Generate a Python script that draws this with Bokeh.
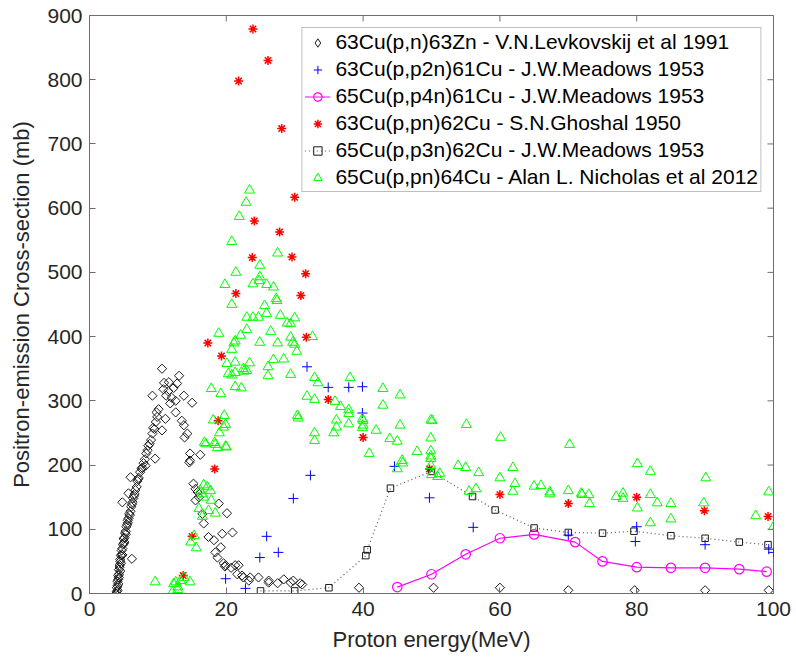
from bokeh.plotting import figure
from bokeh.models import Legend, LegendItem, Range1d, FixedTicker
from bokeh.embed import file_html
from bokeh.resources import INLINE
import numpy as np

# ---------------- data ----------------
# 63Cu(p,n)63Zn - V.N.Levkovskij et al 1991 (black diamonds)
levk_energy = [3.9, 4.0, 4.0, 4.1, 4.1, 4.2, 4.2, 4.3, 4.3, 4.4, 4.4, 4.5, 4.5, 4.6, 4.7, 4.7, 4.8, 4.9,
               5.0, 5.0, 5.1, 5.2, 5.3, 5.4, 5.5, 5.6, 5.7, 5.8, 6.0, 6.1, 6.2, 6.4, 6.5, 6.7, 6.9, 7.0,
               7.2, 7.4, 7.6, 7.9, 8.1, 8.3, 8.5, 8.8, 9.0, 9.2, 9.5, 9.7, 9.9, 10.1,
               4.1, 4.2, 4.3, 4.5, 4.6, 4.8, 5.1, 5.3, 5.6, 5.9, 6.3, 6.6, 7.1, 7.7, 8.6, 9.3, 9.8,
               4.8, 5.7, 6.2, 6.0, 8.2, 9.6,
               10.6, 13.1, 10.9, 11.6, 12.8, 9.2, 11.2, 13.8, 15.0, 12.6, 12.6, 11.1, 13.5, 13.8, 14.3,
               13.9, 10.6, 14.7, 14.7, 16.2, 11.5, 12.0, 10.8, 12.3, 11.8,
               14.6, 15.2, 15.5, 15.8, 16.0, 15.5, 16.5, 16.7, 18.9, 20.1, 19.4, 20.9, 17.4, 18.2, 19.2,
               18.4, 18.7, 19.6, 19.8, 21.3, 20.7, 21.6, 22.5, 23.5, 24.7, 26.2, 27.5, 28.4, 29.8, 30.8,
               19.9, 21.8, 22.3, 23.3, 26.2, 29.4, 31.1,
               39.4, 50.3, 60.0, 70.0, 79.7, 90.0, 99.3]
levk_xs = [0, 3, 9, 12, 19, 22, 28, 30, 37, 41, 44, 50, 53, 59, 61, 67, 70, 76,
           78, 85, 87, 94, 97, 104, 107, 114, 117, 124, 128, 135, 139, 148, 152, 161, 166, 175,
           180, 189, 194, 203, 209, 218, 223, 233, 239, 249, 256, 267, 275, 287,
           5, 15, 25, 35, 47, 60, 80, 92, 110, 122, 142, 155, 178, 196, 230, 258, 282,
           142, 156, 54, 181, 199, 210,
           350, 339, 328, 329, 327, 308, 308, 308, 297, 300, 282, 272, 269, 262, 249,
           243, 254, 218, 207, 216, 315, 305, 318, 320, 296,
           204, 171, 163, 158, 150, 145, 124, 109, 140, 125, 93, 95, 88, 83, 72,
           64, 56, 47, 42, 44, 40, 30, 25, 25, 25, 20, 16, 22, 20, 16,
           44, 44, 28, 20, 17, 17, 14,
           9, 9, 9, 5, 5, 5, 5]

# 63Cu(p,p2n)61Cu - J.W.Meadows 1953 (blue +)
mead61_energy = [19.9, 22.8, 24.9, 25.9, 27.6, 29.8, 31.8, 32.3, 34.9, 37.9, 39.9, 39.9, 44.6, 49.7,
                 56.1, 70.0, 79.8, 80.0, 90.0, 99.3, 100.0]
mead61_xs = [23, 8, 56, 89, 64, 148, 353, 184, 321, 321, 322, 281, 198, 149,
             103, 91, 81, 104, 76, 69, 64]

# 65Cu(p,p4n)61Cu - J.W.Meadows 1953 (magenta circles + line)
p4n_energy = [45, 50, 55, 60, 65, 71, 75, 80, 85, 90, 95, 99]
p4n_xs = [10, 30, 61, 86, 92, 80, 50, 41, 40, 40, 38, 34]

# 63Cu(p,pn)62Cu - S.N.Ghoshal 1950 (red *)
ghosh_energy = [13.7, 15.0, 17.3, 18.3, 18.8, 19.3, 21.4, 21.8, 23.8, 23.9, 24.1, 26.1, 27.8, 28.1,
                29.6, 30.0, 30.9, 31.6, 31.7, 34.9, 40.0, 49.7, 60.0, 70.0, 80.0, 89.9, 99.2]
ghosh_xs = [28, 89, 390, 194, 269, 370, 467, 798, 523, 879, 580, 830, 563, 724,
            524, 617, 464, 498, 399, 302, 243, 194, 154, 140, 150, 129, 120]

# 65Cu(p,p3n)62Cu - J.W.Meadows 1953 (black squares + dotted line)
p3n_energy = [25, 30, 35, 40.4, 40.6, 44, 50, 56, 59.3, 65, 70, 75, 79.6, 85, 90, 95, 99.2]
p3n_xs = [4, 4, 9, 59, 68, 164, 190, 151, 130, 102, 95, 94, 97, 90, 86, 80, 76]

# 65Cu(p,pn)64Cu - Alan L. Nicholas et al 2012 (green triangles)
nich_energy = [23.4, 22.9, 21.9, 20.8, 27.5, 24.9, 21.4, 19.8, 23.9, 24.9, 24.8, 25.9, 26.9, 27.3,
               20.8, 25.6, 27.4, 25.9, 23.0, 23.9, 24.7, 27.9, 28.9, 29.4, 30.0, 18.9, 23.0, 26.5,
               22.1, 21.1, 21.3, 24.9, 27.5, 29.4, 29.7, 30.0, 32.6, 30.3, 20.8, 26.9, 28.4, 23.4,
               22.5, 23.0, 22.6, 20.1, 21.3, 20.3, 20.8, 21.3, 26.1, 26.1, 29.4, 21.3, 22.2, 17.8,
               19.2, 32.9, 33.4, 38.1, 31.8, 32.9, 35.9, 36.7, 37.9, 37.9, 40.0, 40.0, 36.1, 36.1,
               35.7, 37.9, 30.4, 30.5, 32.9, 32.9, 41.9, 40.9, 42.9, 18.1, 19.7, 19.9, 19.6, 19.0,
               16.8, 18.3, 18.7, 19.9, 17.0, 18.4, 20.0,
               16.7, 17.2, 16.2, 17.7, 16.5, 16.7, 17.8, 16.0, 17.4, 18.4, 16.5, 15.3, 14.8, 15.6,
               9.6, 12.6, 13.3, 13.8, 14.7, 12.9, 12.9, 12.1, 12.3,
               45.4, 42.9, 39.9, 39.9, 45.4, 43.9, 45.0, 49.9, 50.1, 49.9, 49.9, 49.9, 49.9, 47.9,
               45.7, 45.8, 45.0, 49.9, 50.0, 51.2, 50.9, 55.1, 53.9, 55.0, 56.9, 55.5, 56.5, 60.1,
               61.9, 60.0, 62.2, 61.9, 65.0, 66.0, 67.3, 67.3, 70.2, 70.0, 71.9, 72.0, 73.0, 73.1,
               77.0, 78.0, 78.0, 80.1, 82.0, 80.1, 82.0, 83.0, 82.0, 85.0, 85.0, 90.1, 89.8, 97.4,
               99.3, 100.0]
nich_xs = [628, 609, 587, 548, 530, 511, 500, 481, 482, 493, 487, 481, 477, 459,
           450, 448, 456, 436, 430, 430, 430, 433, 421, 420, 429, 405, 411, 408,
           402, 390, 393, 391, 390, 399, 391, 388, 400, 377, 380, 364, 365, 359,
           350, 347, 346, 358, 360, 342, 340, 344, 353, 339, 341, 322, 320, 319,
           311, 336, 328, 336, 307, 302, 299, 291, 286, 280, 269, 262, 270, 259,
           250, 264, 277, 273, 250, 238, 254, 218, 319, 270, 277, 263, 259, 250,
           235, 235, 227, 229, 233, 232, 228,
           169, 166, 160, 160, 155, 150, 145, 132, 129, 125, 120, 90, 80, 71,
           18, 18, 20, 25, 18, 10, 6, 2, 15,
           309, 293, 272, 258, 262, 241, 237, 270, 269, 242, 222, 214, 210, 221,
           207, 203, 194, 199, 185, 187, 182, 263, 199, 196, 188, 159, 163, 243,
           196, 180, 171, 159, 167, 168, 158, 155, 232, 160, 156, 154, 154, 140,
           151, 156, 148, 202, 190, 133, 154, 141, 110, 140, 116, 180, 141, 121,
           158, 104]

x_ticks = [0, 20, 40, 60, 80, 100]
y_ticks = [0, 100, 200, 300, 400, 500, 600, 700, 800, 900]
labels = ["63Cu(p,n)63Zn - V.N.Levkovskij et al 1991",
          "63Cu(p,p2n)61Cu - J.W.Meadows 1953",
          "65Cu(p,p4n)61Cu - J.W.Meadows 1953",
          "63Cu(p,pn)62Cu - S.N.Ghoshal 1950",
          "65Cu(p,p3n)62Cu - J.W.Meadows 1953",
          "65Cu(p,pn)64Cu - Alan L. Nicholas et al 2012"]

# ---------------- figure ----------------
FONT = "Liberation Sans"
AXC = "#6e6e6e"
W, H = 796, 662
BL, BR, BT, BB = 89, 23, 15, 69
X0, X1, Y0, Y1 = 0, 100, 0, 900
TICK = 6  # px, inward

p = figure(width=W, height=H, x_range=Range1d(X0, X1), y_range=Range1d(Y0, Y1),
           output_backend="svg", toolbar_location=None,
           min_border_left=BL, min_border_right=BR, min_border_top=BT, min_border_bottom=BB)
p.xgrid.visible = False
p.ygrid.visible = False
p.outline_line_color = AXC
p.outline_line_width = 1
p.background_fill_color = "white"
p.border_fill_color = "white"

DIAMOND_C = "#1a1a1a"
# legend glyph for the diamond symbol: the first (threshold) point of the series, drawn as a diamond
r1_leg = p.scatter(levk_energy[:1], levk_xs[:1], marker="diamond", size=9,
                   fill_color=None, line_color=DIAMOND_C, line_width=1)
r1 = p.scatter(levk_energy, levk_xs, marker="square", angle=np.pi / 4, size=6.5,
               fill_color=None, line_color=DIAMOND_C, line_width=1)
r2 = p.scatter(mead61_energy, mead61_xs, marker="cross", size=10,
               line_color="#0000ff", line_width=1)
r3l = p.line(p4n_energy, p4n_xs, line_color="#ff00ff", line_width=1.2)
r3 = p.scatter(p4n_energy, p4n_xs, marker="circle", size=9.5,
               fill_color=None, line_color="#ff00ff", line_width=1.2)
r4 = p.scatter(ghosh_energy, ghosh_xs, marker="asterisk", size=9,
               line_color="#ff0000", line_width=1.5)
r5l = p.line(p3n_energy, p3n_xs, line_color="#555555", line_width=1.2, line_dash="1 3")
r5 = p.scatter(p3n_energy, p3n_xs, marker="square", size=6.5,
               fill_color=None, line_color="#1a1a1a", line_width=1)
r6 = p.scatter(nich_energy, nich_xs, marker="triangle", size=10,
               fill_color=None, line_color="#00ff00", line_width=1)

# inward ticks on the top and right edges of the box (MATLAB "box on")
fw = W - BL - BR
fh = H - BT - BB
dy = TICK * (Y1 - Y0) / fh
dx = TICK * (X1 - X0) / fw
p.segment(x0=x_ticks, y0=[Y1] * len(x_ticks), x1=x_ticks, y1=[Y1 - dy] * len(x_ticks),
          line_color=AXC, line_width=1)
p.segment(x0=[X1] * len(y_ticks), y0=y_ticks, x1=[X1 - dx] * len(y_ticks), y1=y_ticks,
          line_color=AXC, line_width=1)

for ax in (p.xaxis[0], p.yaxis[0]):
    ax.major_tick_in = TICK
    ax.major_tick_out = 0
    ax.minor_tick_in = 0
    ax.minor_tick_out = 0
    ax.axis_line_color = AXC
    ax.major_tick_line_color = AXC
    ax.major_label_text_font = FONT
    ax.major_label_text_font_size = "21px"
    ax.major_label_text_color = "#262626"
    ax.axis_label_text_font = FONT
    ax.axis_label_text_font_size = "22px"
    ax.axis_label_text_font_style = "normal"
    ax.axis_label_text_color = "#262626"

p.xaxis.ticker = FixedTicker(ticks=x_ticks)
p.yaxis.ticker = FixedTicker(ticks=y_ticks)
p.xaxis.axis_label = "Proton energy(MeV)"
p.yaxis.axis_label = "Positron-emission Cross-section (mb)"
p.xaxis.major_label_standoff = 8
p.yaxis.major_label_standoff = 7
p.xaxis.axis_label_standoff = 8
p.yaxis.axis_label_standoff = 10

legend = Legend(items=[
    LegendItem(label=labels[0], renderers=[r1_leg]),
    LegendItem(label=labels[1], renderers=[r2]),
    LegendItem(label=labels[2], renderers=[r3l, r3]),
    LegendItem(label=labels[3], renderers=[r4]),
    LegendItem(label=labels[4], renderers=[r5l, r5]),
    LegendItem(label=labels[5], renderers=[r6]),
], location="top_right")
legend.margin = 12
legend.padding = 2
legend.spacing = 3
legend.glyph_width = 26
legend.glyph_height = 21
legend.label_height = 21
legend.label_standoff = 5
legend.label_text_font = FONT
legend.label_text_font_size = "21px"
legend.label_text_color = "#000000"
legend.border_line_color = "#808080"
legend.border_line_width = 1
legend.background_fill_color = "white"
legend.background_fill_alpha = 1
p.add_layout(legend)

open("out.html", "w").write(file_html(p, INLINE))
